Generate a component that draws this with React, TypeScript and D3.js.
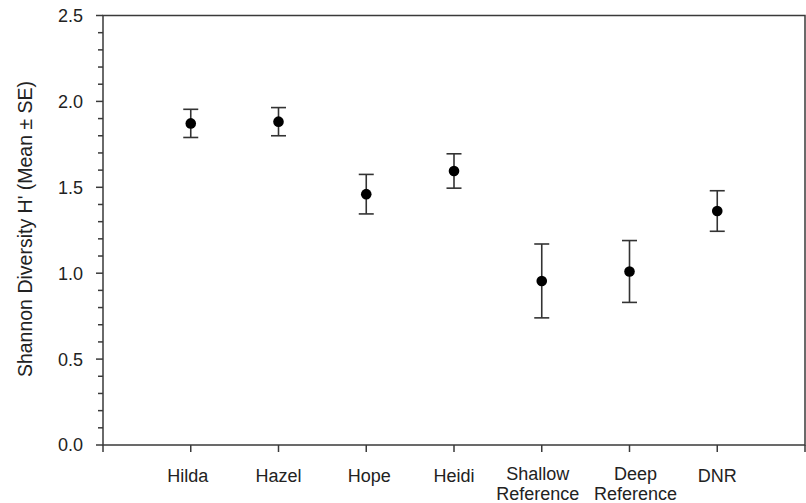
import React from "react";
import * as d3 from "d3";

const categories: string[][] = [
  ["Hilda"],
  ["Hazel"],
  ["Hope"],
  ["Heidi"],
  ["Shallow", "Reference"],
  ["Deep", "Reference"],
  ["DNR"],
];
const means: number[] = [1.872, 1.882, 1.46, 1.595, 0.955, 1.01, 1.362];
const ses: number[] = [0.082, 0.082, 0.115, 0.1, 0.215, 0.18, 0.118];
const yMajorTicks: number[] = [0, 0.5, 1.0, 1.5, 2.0, 2.5];
const yLabel = "Shannon Diversity H' (Mean \u00B1 SE)";

// small horizontal nudges of the category labels, as in the source layout
const labelNudge: number[] = [-3, 0, 3, 0, -4, 6, 0];

const W = 806;
const H = 503;
const left = 103;
const right = 805;
const top = 15.5;
const bottom = 445;
const axisColor = "#3a3a3a";
const textColor = "#222";
const font = "'Liberation Sans', Arial, sans-serif";

export default function App() {
  const x = d3.scaleLinear().domain([0, categories.length + 1]).range([left, right]);
  const y = d3.scaleLinear().domain([0, 2.5]).range([bottom, top]);
  const minorTicks = d3.range(0, 26).map((i) => i / 10).filter((v) => Math.abs(v * 2 - Math.round(v * 2)) > 1e-6);
  const xTicks = d3.range(0, categories.length + 2);

  return (
    <svg
      width={W}
      height={H}
      style={{ position: "absolute", left: 0, top: 0, background: "#fff" }}
      fontFamily={font}
    >
      <rect x={left} y={top} width={right - left} height={bottom - top} fill="none" stroke={axisColor} strokeWidth={1.5} />
      {yMajorTicks.map((t) => (
        <g key={"ym" + t}>
          <line x1={left - 7} x2={left} y1={y(t)} y2={y(t)} stroke={axisColor} strokeWidth={1.5} />
          <text x={83} y={y(t)} dy="0.36em" textAnchor="end" fontSize={18} fill={textColor}>
            {t.toFixed(1)}
          </text>
        </g>
      ))}
      {minorTicks.map((t) => (
        <line key={"yn" + t} x1={left - 5} x2={left} y1={y(t)} y2={y(t)} stroke={axisColor} strokeWidth={1.5} />
      ))}
      {xTicks.map((i) => (
        <line key={"xt" + i} x1={x(i)} x2={x(i)} y1={bottom} y2={bottom + 7} stroke={axisColor} strokeWidth={1.5} />
      ))}
      {categories.map((lines, i) => {
        const lx = x(i + 1) + labelNudge[i];
        return (
          <text key={"xl" + i} x={lx} y={lines.length > 1 ? 480 : 482} textAnchor="middle" fontSize={18} fill={textColor}>
            {lines.map((l, j) => (
              <tspan key={j} x={lx} dy={j === 0 ? 0 : 20}>
                {l}
              </tspan>
            ))}
          </text>
        );
      })}
      <text transform={`translate(32,229) rotate(-90)`} textAnchor="middle" fontSize={19.5} fill={textColor}>
        {yLabel}
      </text>
      {means.map((m, i) => {
        const cx = x(i + 1);
        const y1 = y(m + ses[i]);
        const y2 = y(m - ses[i]);
        return (
          <g key={"p" + i}>
            <line x1={cx} x2={cx} y1={y1} y2={y2} stroke="#333" strokeWidth={1.6} />
            <line x1={cx - 7.5} x2={cx + 7.5} y1={y1} y2={y1} stroke="#333" strokeWidth={1.6} />
            <line x1={cx - 7.5} x2={cx + 7.5} y1={y2} y2={y2} stroke="#333" strokeWidth={1.6} />
            <circle cx={cx} cy={y(m)} r={5.3} fill="#000" />
          </g>
        );
      })}
    </svg>
  );
}
